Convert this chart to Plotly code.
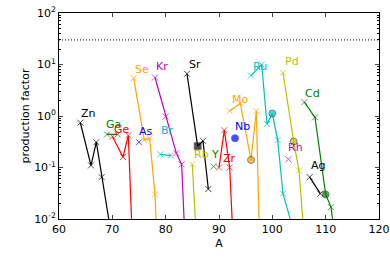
import math
import plotly.graph_objects as go

# ---- data (mass number A, production factor) ----
ZN_A = [64, 66, 67, 68, 70]
ZN_PF = [0.74, 0.11, 0.31, 0.065, 0.0037]
GA_A = [69, 71]
GA_PF = [0.44, 0.44]
GE_A = [70, 72, 73, 74]
GE_PF = [0.40, 0.16, 0.42, 0.0008]
AS_A = [75]
AS_PF = [0.31]
SE_A = [74, 76, 77, 78, 80]
SE_PF = [5.4, 0.34, 0.37, 0.030, 6e-7]
BR_A = [79, 81]
BR_PF = [0.18, 0.17]
KR_A = [78, 80, 82, 83, 84]
KR_PF = [5.6, 0.98, 0.19, 0.115, 0.0005]
RB_A = [85, 87]
RB_PF = [0.115, 1.6e-5]
SR_A = [84, 86, 87, 88]
SR_PF = [6.6, 0.26, 0.33, 0.038]
Y_A = [89]
Y_PF = [0.105]
ZR_A = [90, 91, 92, 94]
ZR_PF = [0.10, 0.53, 0.10, 4e-6]
NB_A = [93]
NB_PF = [0.37]
MO_A = [92, 94, 96, 97, 98]
MO_PF = [1.25, 1.77, 0.14, 1.25, 8e-5]
RU_A = [96, 98, 99, 100, 101, 102, 104]
RU_PF = [6.1, 10.0, 0.70, 1.12, 0.34, 0.031, 0.0058]
RH_A = [103]
RH_PF = [0.144]
PD_A = [102, 104, 105, 106]
PD_PF = [6.9, 0.32, 0.087, 0.004]
AG_A = [107, 109]
AG_PF = [0.065, 0.031]
CD_A = [106, 108, 110, 111, 112]
CD_PF = [1.86, 0.94, 0.030, 0.017, 0.0027]

# s-only isotopes drawn with filled symbols
SPECIAL = {"Sr": {86: "square"}, "Mo": {96: "circle"}, "Ru": {100: "circle"},
           "Pd": {104: "circle"}, "Cd": {110: "circle"}, "Nb": {93: "circle"}}

LIMIT_PF = 30.0

LABELS = ["Zn", "Ga", "Ge", "As", "Se", "Br", "Kr", "Rb", "Sr", "Y", "Zr", "Nb",
          "Mo", "Ru", "Rh", "Pd", "Ag", "Cd"]
LABEL_A = [65.6, 70.3, 71.8, 76.3, 75.6, 80.3, 79.3, 86.7, 85.5, 89.3, 91.9, 94.4,
           93.9, 97.7, 104.4, 103.6, 108.6, 107.5]
LABEL_PF = [1.14, 0.67, 0.55, 0.51, 8.1, 0.52, 9.1, 0.18, 9.8, 0.18, 0.15, 0.62,
            2.05, 9.1, 0.25, 11.3, 0.107, 2.76]

X_TICKS = [60, 70, 80, 90, 100, 110, 120]
Y_TICKS = [0.01, 0.1, 1, 10, 100]
Y_TICK_TEXT = ["10<sup>-2</sup>", "10<sup>-1</sup>", "10<sup>0</sup>", "10<sup>1</sup>", "10<sup>2</sup>"]

K, G, R, B, C, M, Y, O = "#000000", "#008000", "#ff0000", "#0000ff", "#00bfbf", "#bf00bf", "#bfbf00", "#ffa500"

SERIES = [
    ("Zn", ZN_A, ZN_PF, K), ("Ga", GA_A, GA_PF, G), ("Ge", GE_A, GE_PF, R),
    ("As", AS_A, AS_PF, B), ("Se", SE_A, SE_PF, O), ("Br", BR_A, BR_PF, C),
    ("Kr", KR_A, KR_PF, M), ("Rb", RB_A, RB_PF, Y), ("Sr", SR_A, SR_PF, K),
    ("Y", Y_A, Y_PF, G), ("Zr", ZR_A, ZR_PF, R), ("Nb", NB_A, NB_PF, B),
    ("Mo", MO_A, MO_PF, O), ("Ru", RU_A, RU_PF, C), ("Rh", RH_A, RH_PF, M),
    ("Pd", PD_A, PD_PF, Y), ("Ag", AG_A, AG_PF, K), ("Cd", CD_A, CD_PF, G),
]
COLOR_OF = {name: col for name, _, _, col in SERIES}

FONT = "DejaVu Sans"

fig = go.Figure()

fig.add_trace(go.Scatter(x=[60, 120], y=[LIMIT_PF, LIMIT_PF], mode="lines",
                         line=dict(color="black", width=1, dash="1px,2px"),
                         showlegend=False, hoverinfo="skip"))

for name, xs, ys, col in SERIES:
    sp = SPECIAL.get(name, {})
    symbols, sizes, lcols, lw = [], [], [], []
    for a in xs:
        if a in sp:
            symbols.append(sp[a]); sizes.append(7)
            lcols.append("#333333" if name != "Nb" else col); lw.append(0.8)
        else:
            symbols.append("x-thin"); sizes.append(6); lcols.append(col); lw.append(1)
    fig.add_trace(go.Scatter(
        x=xs, y=ys, mode="lines+markers" if len(xs) > 1 else "markers",
        line=dict(color=col, width=1.2),
        marker=dict(symbol=symbols, size=sizes, color=col,
                    line=dict(color=lcols, width=lw)),
        showlegend=False, hoverinfo="skip"))

for lab, a, pf in zip(LABELS, LABEL_A, LABEL_PF):
    fig.add_annotation(x=a, y=math.log10(pf), xref="x", yref="y", text=lab,
                       showarrow=False, font=dict(family=FONT, size=11, color=COLOR_OF[lab]))

minor_vals = [m * 10 ** e for e in range(-2, 2) for m in range(2, 10)]

fig.update_layout(
    width=390, height=265,
    margin=dict(l=59, r=11, t=13, b=46, autoexpand=False),
    paper_bgcolor="white", plot_bgcolor="white",
    font=dict(family=FONT, size=11, color="black"),
    xaxis=dict(range=[60, 120], tickvals=X_TICKS, ticks="inside", ticklen=4,
               showline=True, linecolor="black", linewidth=1, mirror="ticks",
               showgrid=False, zeroline=False, automargin=False,
               title=dict(text="A", font=dict(size=11), standoff=4),
               tickfont=dict(size=11)),
    yaxis=dict(type="log", range=[-2, 2], tickvals=Y_TICKS, ticktext=Y_TICK_TEXT,
               ticks="inside", ticklen=4, showline=True, linecolor="black",
               linewidth=1, mirror="ticks", showgrid=False, zeroline=False,
               automargin=False,
               minor=dict(tickvals=minor_vals, ticks="inside", ticklen=2,
                          tickcolor="black", showgrid=False),
               title=dict(text="production factor", font=dict(size=11), standoff=2),
               tickfont=dict(size=11)),
)

fig.write_html("out.html", config={"displayModeBar": False},
               post_script="document.body.style.margin='0px';")
